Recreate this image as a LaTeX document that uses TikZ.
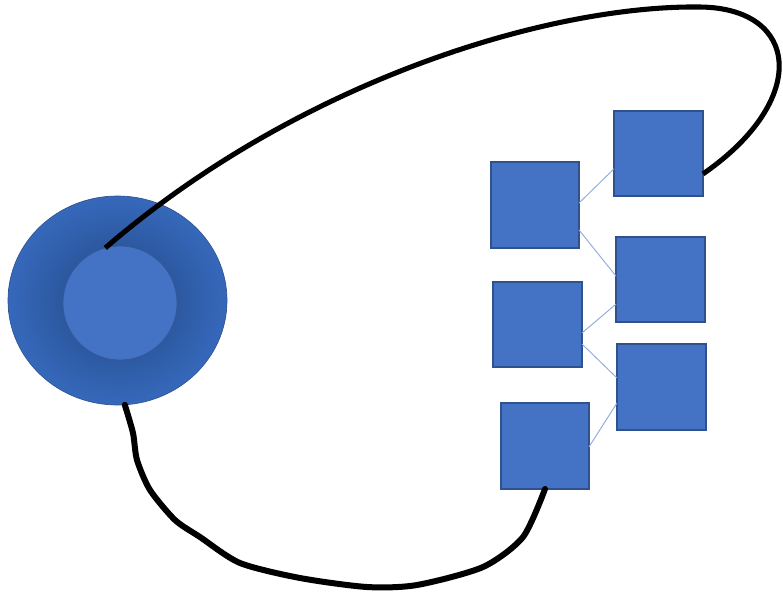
\documentclass[tikz,border=0pt]{standalone}
\usetikzlibrary{calc,shapes.geometric}
\definecolor{boxfill}{HTML}{4472C4}
\definecolor{boxline}{HTML}{2F528F}
\definecolor{linkblue}{HTML}{8FAADC}
\definecolor{ringdark}{HTML}{2C589F}
\definecolor{ringlight}{HTML}{3668BB}
\pgfdeclareradialshading{ringshade}{\pgfpoint{0bp}{0bp}}{%
  color(0bp)=(ringdark); color(13bp)=(ringdark); color(25bp)=(ringlight); color(50bp)=(ringlight)}
\tikzset{
  sq/.style={draw=boxline, line width=1.1pt, fill=boxfill, inner sep=0pt, outer sep=0pt},
  link/.style={draw=linkblue, line width=0.7pt},
  wire/.style={draw=black, line width=3.8pt},
}
\begin{document}
\begin{tikzpicture}[x=0.75pt, y=-0.75pt]
\useasboundingbox (0,0) rectangle (783,594);

% outer disc with darker ring toward the middle, lighter disc on top
\node[ellipse, draw=boxline, line width=0.5pt, shading=ringshade, inner sep=0pt, outer sep=0pt,
      minimum width=164.25pt, minimum height=156.75pt] (outer) at (117.5,300.5) {};
\node[circle, draw=boxline!80!boxfill, line width=0.5pt, fill=boxfill, inner sep=0pt, outer sep=0pt,
      minimum size=85.5pt] (inner) at (120,303) {};

% left column of boxes
\node[sq, minimum width=66pt, minimum height=64.5pt] (S1) at (535,205) {};
\node[sq, minimum width=66.75pt, minimum height=63.75pt] (S2) at (537.5,324.5) {};
\node[sq, minimum width=66pt, minimum height=64.5pt] (S3) at (545,446) {};
% right column of boxes
\node[sq, minimum width=66.75pt, minimum height=63.75pt] (R1) at (658.5,153.5) {};
\node[sq, minimum width=66.75pt, minimum height=63.75pt] (R2) at (660.5,279.5) {};
\node[sq, minimum width=66.75pt, minimum height=64.5pt] (R3) at (661.5,387) {};

% thin links between the columns
\draw[link] ($(S1.north east)!0.477!(S1.south east)$) -- ($(R1.north west)!0.68!(R1.south west)$);
\draw[link] ($(S1.north east)!0.79!(S1.south east)$) -- ($(R2.north west)!0.46!(R2.south west)$);
\draw[link] ($(S2.north east)!0.60!(S2.south east)$) -- ($(R2.north west)!0.79!(R2.south west)$);
\draw[link] ($(S2.north east)!0.73!(S2.south east)$) -- ($(R3.north west)!0.395!(R3.south west)$);
\draw[link] ($(S3.north east)!0.51!(S3.south east)$) -- ($(R3.north west)!0.686!(R3.south west)$);

% long loop over the top
\coordinate (looptop) at (700,7);
\coordinate (loopend) at ($(R1.north east)!0.74!(R1.south east)$);
\draw[wire] (inner.105) .. controls (300,80) and (550,5) .. (looptop)
  .. controls (800,8) and (810,100) .. (loopend);

% hand-drawn return path underneath
\draw[wire, line width=4.5pt, line cap=round] plot[smooth, tension=0.45] coordinates {
  (outer.-86) (133,433) (137,460) (150,490) (175,520) (200,537) (240,563) (300,578)
  (367,587) (417,585) (483,567) (523,537) (S3.south)};
\end{tikzpicture}
\end{document}
